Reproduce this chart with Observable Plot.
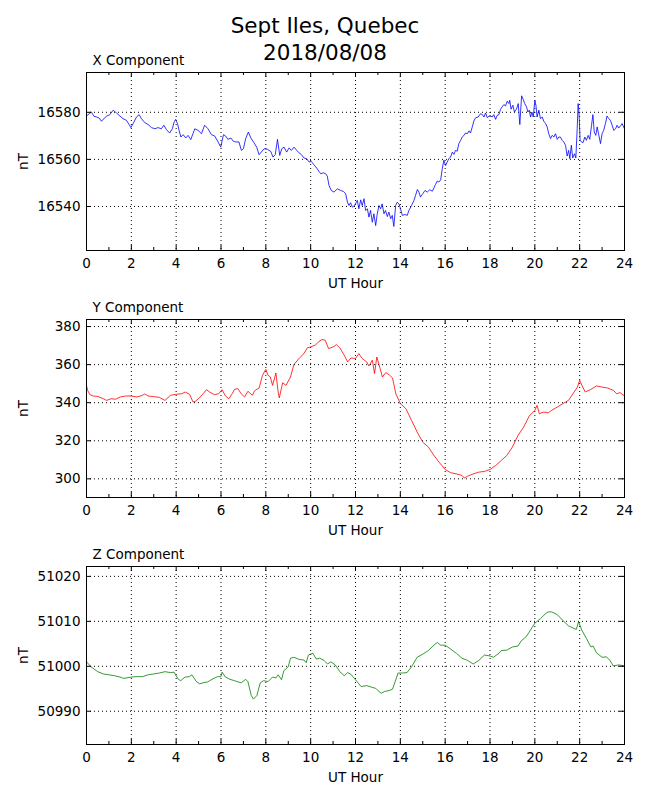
<!DOCTYPE html>
<html>
<head>
<meta charset="utf-8">
<script src="https://cdn.jsdelivr.net/npm/d3@7"></script>
<script src="https://cdn.jsdelivr.net/npm/@observablehq/plot@0.6"></script>
<style>
  html, body { margin: 0; padding: 0; background: #fff; }
  #chart { position: relative; width: 650px; height: 800px; font-family: "DejaVu Sans", sans-serif; background: #fff; }
  #title { position: absolute; left: 0; top: 12px; width: 650px; text-align: center; font-size: 21.5px; line-height: 27px; color: #000; z-index: 5; }
  .panel { position: absolute; left: 0; }
</style>
</head>
<body>
<div id="chart">
  <div id="title"></div>
</div>
<script>
// ---------- data ----------
const titleLines = ["Sept Iles, Quebec", "2018/08/08"];
const panelTitles = ["X Component", "Y Component", "Z Component"];
const xAxisLabel = "UT Hour";
const yAxisLabel = "nT";

const xTicks = [0, 2, 4, 6, 8, 10, 12, 14, 16, 18, 20, 22, 24];
const xMinorTicks = [1, 3, 5, 7, 9, 11, 13, 15, 17, 19, 21, 23];

const xCompTicks = [16540, 16560, 16580];
const yCompTicks = [300, 320, 340, 360, 380];
const zCompTicks = [50990, 51000, 51010, 51020];

const xCompDomain = [16521.3, 16596.9];
const yCompDomain = [290.2, 383.7];
const zCompDomain = [50982.6, 51022.2];

const xCompHours = [0,0.12,0.22,0.33,0.45,0.56,0.67,0.74,0.89,1.04,1.19,1.34,1.49,1.63,1.78,1.9,1.98,2.08,2.23,2.35,2.45,2.6,2.75,2.9,3.05,3.19,3.34,3.45,3.57,3.71,3.83,3.91,3.98,4.06,4.13,4.21,4.31,4.43,4.53,4.65,4.75,4.83,4.98,5.13,5.27,5.42,5.57,5.72,5.87,5.99,
  6.11,6.21,6.31,6.44,6.55,6.66,6.8,6.91,7,7.1,7.22,7.33,7.47,7.59,7.7,7.8,7.92,8.07,8.22,8.32,8.42,8.52,8.62,8.71,8.81,8.93,9.04,9.14,9.26,9.38,9.48,9.59,9.7,9.82,9.93,10.03,10.15,10.27,10.37,10.45,10.56,10.67,10.74,10.82,10.92,11.04,11.19,11.34,11.46,11.56,11.64,11.71,11.78,11.86,11.98,
  12.08,12.15,12.23,12.3,12.38,12.45,12.53,12.6,12.67,12.75,12.82,12.9,12.97,13.05,13.12,13.19,13.27,13.34,13.42,13.49,13.57,13.64,13.71,13.79,13.86,13.94,14.01,14.09,14.21,14.31,14.38,14.5,14.61,14.68,14.76,14.83,14.9,14.98,15.1,15.2,15.31,15.43,15.5,15.57,15.65,15.72,15.8,15.87,15.94,16.02,16.09,16.17,16.24,16.32,16.39,16.46,16.54,16.61,16.69,16.76,16.84,16.91,16.99,17.06,17.13,17.21,17.28,17.36,17.47,17.58,17.65,17.73,17.8,17.88,18,
  18.1,18.17,18.25,18.32,18.4,18.47,18.54,18.62,18.69,18.77,18.84,18.88,18.94,19.02,19.09,19.18,19.26,19.33,19.41,19.48,19.55,19.63,19.69,19.75,19.81,19.87,19.93,20,20.05,20.1,20.18,20.25,20.33,20.4,20.48,20.55,20.62,20.7,20.77,20.85,20.92,21,21.07,21.14,21.22,21.29,21.37,21.44,21.51,21.56,21.63,21.69,21.77,21.83,21.89,21.93,21.97,22.02,22.08,22.15,22.23,22.3,22.38,22.45,22.53,22.59,22.65,22.72,22.78,22.85,22.93,23,23.07,23.15,23.22,23.3,23.37,23.45,23.52,23.6,23.67,23.74,23.82,23.89,24];
const xCompValues = [16578.4,16579.4,16580.1,16578.3,16578.0,16577.6,16576.2,16577.0,16578.3,16579.0,16580.9,16579.7,16578.4,16577.3,16576.6,16574.8,16573.5,16575.2,16578.0,16579.0,16577.3,16575.6,16574.8,16573.5,16573.0,16573.5,16573.0,16574.5,16572.6,16571.2,16573.0,16575.9,16577.0,16575.2,16572.3,16569.5,16570.5,16569.1,16570.2,16568.4,16570.9,16573.0,16572.3,16570.9,16574.5,16573.0,16570.5,16569.9,16567.4,16565.2,
  16570.5,16569.9,16568.5,16569.1,16567.7,16567.4,16567.4,16563.8,16564.5,16568.8,16571.6,16569.1,16567.1,16565.2,16562.0,16563.1,16564.5,16564.3,16563.4,16561.0,16562.0,16568.5,16561.7,16564.5,16565.2,16563.1,16564.9,16563.8,16565.2,16563.8,16562.8,16562.0,16560.6,16560.3,16558.9,16559.1,16557.7,16556.3,16554.9,16553.9,16554.3,16553.9,16552.9,16548.9,16546.8,16546.1,16547.5,16546.8,16546.4,16545.4,16541.9,16540.4,16541.6,16539.7,16540.7,
  16542.6,16539.0,16542.8,16540.4,16543.3,16538.3,16539.0,16535.5,16538.3,16533.3,16536.9,16531.9,16536.9,16540.4,16539.0,16541.1,16536.9,16538.3,16535.7,16537.6,16534.8,16536.2,16531.5,16540.4,16541.8,16541.1,16539.0,16536.2,16536.6,16536.2,16538.3,16540.4,16542.6,16544.7,16547.2,16546.1,16544.0,16545.1,16546.8,16546.1,16547.1,16546.5,16547.9,16549.4,16550.8,16550.4,16551.3,16556.0,16559.6,16557.4,16558.9,16560.3,16561.0,16563.1,16562.1,16563.8,16563.5,16566.7,16568.1,16569.5,16570.2,16571.2,16570.9,16572.1,16571.2,16573.8,16576.3,16577.7,16578.0,16579.4,16579.1,16578.0,16579.7,16577.7,16578.7,
  16578.0,16579.0,16577.0,16578.7,16579.0,16581.3,16582.3,16583.3,16582.7,16584.7,16583.7,16585.1,16581.3,16583.0,16580.1,16581.3,16583.7,16574.8,16587.0,16585.5,16583.7,16582.3,16580.1,16580.9,16578.0,16580.1,16578.0,16585.1,16583.0,16578.0,16580.9,16577.3,16578.0,16576.2,16575.2,16573.8,16570.9,16568.8,16570.2,16569.5,16570.9,16568.5,16569.5,16569.5,16568.1,16567.4,16566.0,16561.4,16563.8,16560.3,16566.0,16560.6,16562.4,16560.6,16573.0,16583.7,16580.1,16568.1,16567.4,16567.1,16569.5,16568.1,16570.2,16568.5,16574.5,16579.0,16571.6,16570.2,16573.8,16570.5,16566.7,16570.9,16572.3,16575.2,16578.4,16577.3,16576.6,16574.5,16572.3,16573.0,16574.5,16573.3,16574.2,16575.2,16573.0];

const yCompHours = [0,0.05,0.15,0.3,0.5,0.75,0.9,1.1,1.3,1.5,1.75,2,2.25,2.5,2.6,2.75,3,3.25,3.5,3.75,4,4.25,4.4,4.6,4.75,4.85,5,5.2,5.35,5.5,5.7,5.9,6.05,6.2,6.35,6.5,6.6,6.75,6.9,7.05,7.2,7.4,7.5,7.7,7.85,8,8.1,8.2,8.3,8.45,8.55,8.6,8.75,8.9,9.1,9.25,9.5,9.7,9.85,10,10.2,10.35,10.5,10.65,10.8,11,11.15,11.3,11.5,11.65,11.8,12,12.15,12.3,12.5,12.6,12.75,12.85,12.95,13.1,13.2,13.35,13.5,13.65,13.8,14,14.25,14.5,14.75,15,15.25,15.5,15.75,16,16.25,16.5,16.75,16.85,17,17.25,17.5,17.75,18,18.25,18.5,18.75,19,19.25,19.5,19.75,20,20.1,20.2,20.4,20.6,20.75,21,21.25,21.5,21.75,21.9,22,22.1,22.25,22.5,22.75,23,23.25,23.5,23.65,23.8,24];
const yCompValues = [349.1,346.5,344.2,343.5,343.3,342.1,341.2,342.1,341.8,343.0,343.5,343.5,343.0,343.9,344.6,343.5,343.2,342.8,341.2,343.9,344.4,344.7,345.6,344.4,340.4,340.7,342.1,344.7,346.8,345.6,344.2,344.7,346.8,343.5,342.1,344.7,347.0,347.4,344.7,343.0,346.0,343.9,346.3,347.7,354.4,357.5,354.4,353.5,349.1,355.6,345.6,342.5,350.5,349.1,353.5,360.0,363.5,365.8,368.8,369.3,370.2,371.9,373.2,372.8,368.4,369.3,370.5,368.8,364.9,361.4,363.5,363.2,365.8,363.2,361.4,359.3,362.3,355.3,364.0,357.9,353.5,355.8,354.7,353.0,344.7,339.5,336.8,330.7,324.6,319.3,316.7,312.3,308.4,304.9,303.2,302.6,301.8,300.4,301.4,302.6,303.5,303.9,304.9,307.0,309.6,312.3,316.7,322.8,327.2,333.0,336.0,338.6,334.2,335.1,334.7,336.0,337.7,339.5,341.2,345.6,348.2,351.8,349.1,345.6,347.0,348.8,348.2,347.7,346.5,344.7,345.3,343.5];

const zCompHours = [0,0.2,0.5,0.75,1,1.25,1.5,1.65,2,2.25,2.5,2.75,3,3.25,3.5,3.75,3.9,4.1,4.2,4.4,4.6,4.7,4.9,5.05,5.25,5.4,5.6,5.85,6,6.05,6.2,6.4,6.6,6.9,7.1,7.2,7.35,7.45,7.6,7.75,7.9,8.1,8.3,8.45,8.55,8.7,8.8,9,9.1,9.25,9.5,9.7,9.8,9.9,10.1,10.25,10.4,10.6,10.75,10.9,11.1,11.3,11.5,11.65,11.8,12,12.25,12.5,12.75,12.9,13,13.15,13.3,13.5,13.65,13.75,13.9,14.1,14.3,14.5,14.75,15,15.25,15.5,15.65,15.8,16,16.25,16.5,16.75,17,17.25,17.5,17.75,18,18.15,18.4,18.5,18.75,19,19.25,19.4,19.6,19.75,20,20.25,20.5,20.6,20.75,21,21.25,21.5,21.75,21.85,21.95,22.1,22.3,22.5,22.6,22.75,23,23.2,23.35,23.5,23.75,24];
const zCompValues = [51001.0,50999.9,50998.8,50998.3,50998.1,50997.9,50997.6,50997.3,50997.6,50997.7,50997.7,50998.1,50998.3,50998.5,50998.8,50998.6,50998.7,50997.1,50996.8,50997.6,50997.7,50998.1,50996.6,50996.1,50996.4,50996.5,50997.1,50997.7,50997.7,50998.7,50997.6,50997.1,50996.8,50996.3,50997.1,50996.6,50993.5,50992.7,50993.5,50996.3,50996.8,50996.6,50997.6,50997.4,50998.1,50997.0,50999.0,50999.9,51001.8,51002.0,51001.5,51001.4,51000.8,51002.5,51002.9,51001.6,51001.8,51001.3,51000.5,51001.0,51000.3,50998.8,50997.9,50998.6,50998.2,50997.0,50995.5,50995.7,50995.3,50995.1,50994.6,50994.0,50994.4,50994.6,50994.9,50996.3,50998.5,50998.5,50998.6,50999.9,51002.0,51002.7,51003.5,51004.7,51005.3,51004.7,51004.7,51003.8,51002.9,51001.8,51001.3,51000.5,51001.3,51002.5,51002.3,51002.0,51002.9,51003.5,51003.6,51004.3,51004.5,51005.7,51006.5,51007.6,51009.6,51010.6,51011.8,51012.1,51012.1,51011.5,51010.2,51009.0,51008.4,51008.2,51009.9,51008.0,51006.2,51004.3,51004.5,51003.0,51002.0,51002.1,51001.3,51000.1,51000.3,51000.1];

const seriesColors = ["#0000ff", "#ff0000", "#008000"];

// ---------- drawing ----------
document.getElementById("title").innerHTML = titleLines.join("<br>");

const W = 650, ML = 86, MR = 26, MT = 32, MB = 50, PH = 178;
const PW = W - ML - MR;
const FS = 13.5;

function zip(hours, values) {
  return hours.map((h, i) => ({h, v: values[i]}));
}

function panel(title, hours, values, domain, ticks, color, top) {
  const data = zip(hours, values);
  const svg = Plot.plot({
    width: W,
    height: MT + PH + MB,
    marginLeft: ML, marginRight: MR, marginTop: MT, marginBottom: MB,
    style: {fontFamily: "DejaVu Sans, sans-serif", fontSize: FS + "px", background: "transparent", color: "black", overflow: "visible"},
    x: {domain: [0, 24]},
    y: {domain: domain},
    marks: [
      Plot.gridX(xTicks, {stroke: "black", strokeOpacity: 1, strokeWidth: 1, strokeDasharray: "1,3"}),
      Plot.gridY(ticks, {stroke: "black", strokeOpacity: 1, strokeWidth: 1, strokeDasharray: "1,3"}),
      Plot.line(data, {x: "h", y: "v", stroke: color, strokeWidth: 0.8}),
      // inward tick marks
      Plot.tickX(xTicks, {x: d => d, insetTop: PH - 5, stroke: "black"}),
      Plot.tickX(xTicks, {x: d => d, insetBottom: PH - 5, stroke: "black"}),
      Plot.tickX(xMinorTicks, {x: d => d, insetTop: PH - 3, stroke: "black"}),
      Plot.tickX(xMinorTicks, {x: d => d, insetBottom: PH - 3, stroke: "black"}),
      Plot.tickY(ticks, {y: d => d, insetRight: PW - 5, stroke: "black"}),
      Plot.tickY(ticks, {y: d => d, insetLeft: PW - 5, stroke: "black"}),
      Plot.frame({stroke: "black", strokeWidth: 1}),
      Plot.axisX({ticks: xTicks, tickSize: 0, tickPadding: 8, label: null, tickFormat: d => String(d), fontSize: FS}),
      Plot.axisY({ticks: ticks, tickSize: 0, tickPadding: 6, label: null, tickFormat: d => String(d), fontSize: FS}),
      Plot.text([title], {frameAnchor: "top-left", textAnchor: "start", lineAnchor: "bottom", dx: 6, dy: -7.5, fontSize: FS, fill: "black"}),
      Plot.text([yAxisLabel], {frameAnchor: "left", rotate: -90, textAnchor: "middle", lineAnchor: "middle", dx: -63, fontSize: FS, fill: "black"}),
      Plot.text([xAxisLabel], {frameAnchor: "bottom", textAnchor: "middle", lineAnchor: "bottom", dy: 37, fontSize: FS, fill: "black"})
    ]
  });
  svg.classList.add("panel");
  svg.style.top = top + "px";
  svg.style.left = "0px";
  svg.style.position = "absolute";
  document.getElementById("chart").appendChild(svg);
}

panel(panelTitles[0], xCompHours, xCompValues, xCompDomain, xCompTicks, seriesColors[0], 72 - MT);
panel(panelTitles[1], yCompHours, yCompValues, yCompDomain, yCompTicks, seriesColors[1], 319 - MT);
panel(panelTitles[2], zCompHours, zCompValues, zCompDomain, zCompTicks, seriesColors[2], 566 - MT);
</script>
</body>
</html>
